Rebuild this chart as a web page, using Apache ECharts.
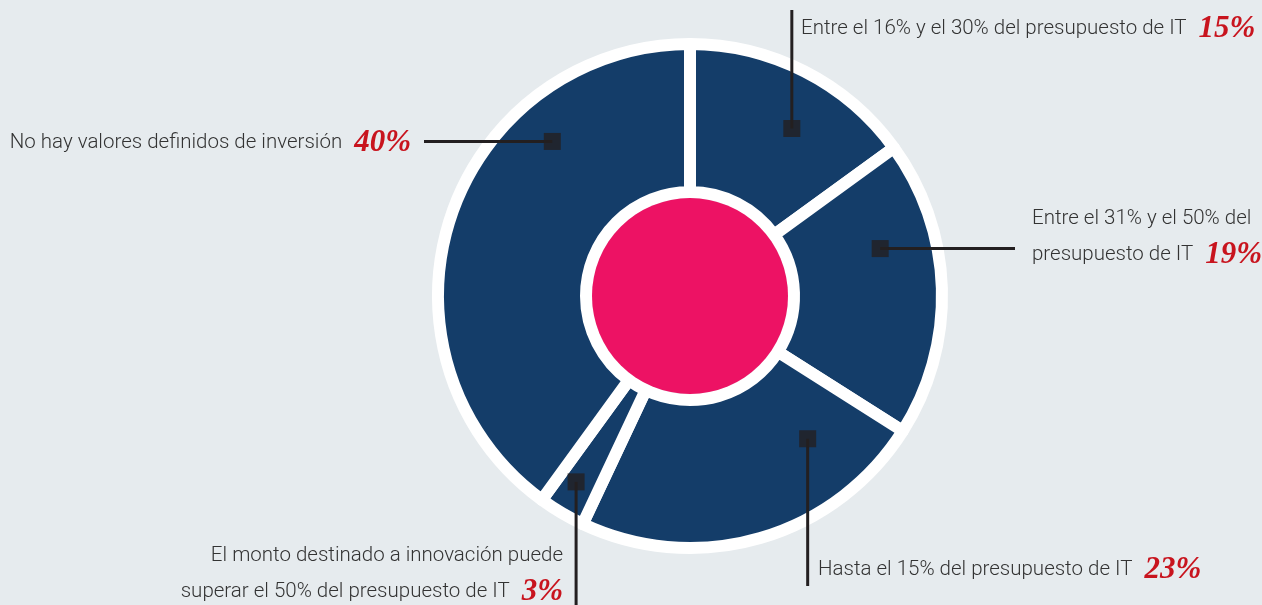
<!DOCTYPE html>
<html><head><meta charset="utf-8">
<script src="https://cdn.jsdelivr.net/npm/echarts@6/dist/echarts.min.js"></script>
<style>html,body{margin:0;padding:0;background:#e6ebee}#c{width:1262px;height:605px}</style>
</head><body><div id="c"></div>
<script>
// ---- data ----
const categories = [
  "Entre el 16% y el 30% del presupuesto de IT",
  "Entre el 31% y el 50% del presupuesto de IT",
  "Hasta el 15% del presupuesto de IT",
  "El monto destinado a innovación puede superar el 50% del presupuesto de IT",
  "No hay valores definidos de inversión"
];
const labelLines = [
  ["Entre el 16% y el 30% del presupuesto de IT"],
  ["Entre el 31% y el 50% del", "presupuesto de IT"],
  ["Hasta el 15% del presupuesto de IT"],
  ["El monto destinado a innovación puede", "superar el 50% del presupuesto de IT"],
  ["No hay valores definidos de inversión"]
];
const values = [15, 19, 23, 3, 40];

// ---- layout (not data) ----
const CX = 690, CY = 296;
const markerPolar = [[196, 31.3], [196, 76], [185, 140.5], [218, 211.5], [207, 318.3]]; // [radius px, angle clockwise from top]
const labelPos = [
  {x: 801, y: 29, align: 'left', axis: 'y', to: 10},
  {x: 1032, y: 237, align: 'left', axis: 'x', to: 1015},
  {x: 818, y: 570, align: 'left', axis: 'y', to: 586},
  {x: 563, y: 574, align: 'right', axis: 'y', to: 606},
  {x: 411, y: 143, align: 'right', axis: 'x', to: 424}
];
const SANS = "Roboto,'Liberation Sans',sans-serif";
const SERIF = "'Liberation Serif','DejaVu Serif',serif";

function toXY(r, a) {
  const t = a * Math.PI / 180;
  return [CX + r * Math.sin(t), CY - r * Math.cos(t)];
}

const tStyle = {fontFamily: SANS, fontSize: 20.5, fontWeight: 300, color: '#333333', lineHeight: 36};
const vStyle = {fontFamily: SERIF, fontSize: 31, fontStyle: 'italic', fontWeight: 'bold', color: '#c8141e', lineHeight: 36, padding: [0, 0, 0, 12]};

const chart = echarts.init(document.getElementById('c'), null, {renderer: 'canvas'});
chart.setOption({
  backgroundColor: '#e6ebee',
  animation: false,
  polar: {center: [CX, CY], radius: 252},
  radiusAxis: {min: 0, max: 252, show: false},
  angleAxis: {min: 0, max: 360, startAngle: 90, clockwise: true, show: false},
  series: [
    {
      type: 'pie',
      center: [CX, CY],
      radius: [104, 252],
      startAngle: 90,
      clockwise: true,
      silent: true,
      z: 2,
      itemStyle: {color: '#143d69', borderColor: '#ffffff', borderWidth: 12, borderJoin: 'round'},
      data: categories.map((c, i) => ({name: c, value: values[i]})),
      label: {show: false},
      labelLine: {show: false}
    },
    {
      type: 'pie',
      center: [CX, CY],
      radius: [0, 98],
      silent: true,
      z: 2,
      label: {show: false},
      labelLine: {show: false},
      data: [{name: 'centro', value: 1, itemStyle: {color: '#ed1264'}}]
    },
    {
      type: 'pie',
      center: [CX, CY],
      radius: [104, 252],
      startAngle: 90,
      clockwise: true,
      silent: true,
      z: 5,
      avoidLabelOverlap: false,
      itemStyle: {color: 'rgba(0,0,0,0)', borderWidth: 0},
      data: categories.map((c, i) => ({name: c, value: values[i]})),
      label: {
        show: true,
        position: 'outside',
        formatter: function (p) {
          const i = p.dataIndex;
          const s = labelPos[i].align === 'right' ? 'R' : '';
          const ls = labelLines[i];
          return ls.map((l, k) => k === ls.length - 1
            ? '{t' + s + '|' + l + '}{v' + s + '|' + values[i] + '%}'
            : '{t' + s + '|' + l + '}').join('\n');
        },
        rich: {
          t: tStyle, v: vStyle,
          tR: Object.assign({}, tStyle, {align: 'right'}),
          vR: Object.assign({}, vStyle, {align: 'right'})
        }
      },
      labelLine: {show: true, lineStyle: {color: '#231f20', width: 3}},
      labelLayout: function (p) {
        const i = p.dataIndex;
        const L = labelPos[i];
        const m = toXY(markerPolar[i][0], markerPolar[i][1]);
        let pts;
        if (L.axis === 'y') pts = [[m[0], m[1]], [m[0], (m[1] + L.to) / 2], [m[0], L.to]];
        else pts = [[m[0], m[1]], [(m[0] + L.to) / 2, m[1]], [L.to, m[1]]];
        return {x: L.x, y: L.y, align: L.align, verticalAlign: 'middle', labelLinePoints: pts};
      }
    },
    {
      type: 'scatter',
      coordinateSystem: 'polar',
      symbol: 'rect',
      symbolSize: 17,
      silent: true,
      z: 10,
      itemStyle: {color: '#231f20'},
      data: markerPolar.map(m => [m[0], m[1]])
    }
  ]
});
</script></body></html>
